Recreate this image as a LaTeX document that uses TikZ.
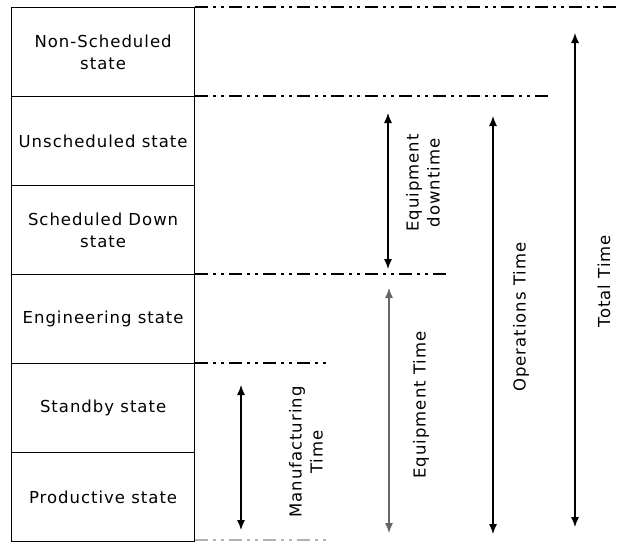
\documentclass[tikz,border=0pt]{standalone}
\usepackage{fontspec}
\setmainfont{DejaVu Sans}[LetterSpace=6]
\usetikzlibrary{arrows.meta}

\tikzset{
  statebox/.style={draw, line width=1.2pt, minimum width=183pt, minimum height=89pt,
    inner sep=0pt, align=center, font=\fontsize{16.5}{22}\selectfont, anchor=north west},
  guide/.style={line width=1.2pt, dash pattern=on 13pt off 5pt on 3pt off 5pt on 3pt off 5pt},
  span/.style={line width=1.2pt, {Latex[length=10pt,width=8pt]}-{Latex[length=10pt,width=8pt]}},
  spanlabel/.style={rotate=90, align=center, font=\fontsize{16.5}{21}\selectfont, inner sep=0pt}
}

\begin{document}
\begin{tikzpicture}[x=1pt,y=-1pt]
  \useasboundingbox (0,0) rectangle (620,541);

  % stack of equipment states
  \node[statebox] (ns) at (11,7)   {Non-Scheduled\\state};
  \node[statebox] (us) at (11,96)  {Unscheduled state};
  \node[statebox] (sd) at (11,185) {Scheduled Down\\state};
  \node[statebox] (en) at (11,274) {Engineering state};
  \node[statebox] (sb) at (11,363) {Standby state};
  \node[statebox] (pr) at (11,452) {Productive state};

  % dash-dot guide lines marking the period boundaries
  \coordinate (g0) at (620,7);
  \coordinate (g1) at (548,96);
  \coordinate (g2) at (446,274);
  \coordinate (g3) at (328,363);
  \coordinate (g4) at (330,540);
  \draw[guide] (ns.north east) -- (g0);
  \draw[guide] (us.north east) -- (g1);
  \draw[guide] (en.north east) -- (g2);
  \draw[guide] (sb.north east) -- (g3);
  \draw[guide, black!30] (pr.south east |- g4) -- (g4);

  % time span arrows
  \coordinate (m1) at (241,385);  \coordinate (m2) at (241,530);
  \coordinate (d1) at (388,113);  \coordinate (d2) at (388,269);
  \coordinate (e1) at (389,288);  \coordinate (e2) at (389,533);
  \coordinate (o1) at (493,116);  \coordinate (o2) at (493,534);
  \coordinate (t1) at (575,33);   \coordinate (t2) at (575,527);
  \draw[span] (m1) -- (m2);
  \draw[span] (d1) -- (d2);
  \draw[span, black!60] (e1) -- (e2);
  \draw[span] (o1) -- (o2);
  \draw[span] (t1) -- (t2);

  % span labels
  \node[spanlabel] (ml) at (306,452) {Manufacturing\\Time};
  \node[spanlabel] (dl) at (423,183) {Equipment\\downtime};
  \node[spanlabel] (el) at (421,405) {Equipment Time};
  \node[spanlabel] (ol) at (521,317) {Operations Time};
  \node[spanlabel] (tl) at (604,281) {Total Time};
\end{tikzpicture}
\end{document}
